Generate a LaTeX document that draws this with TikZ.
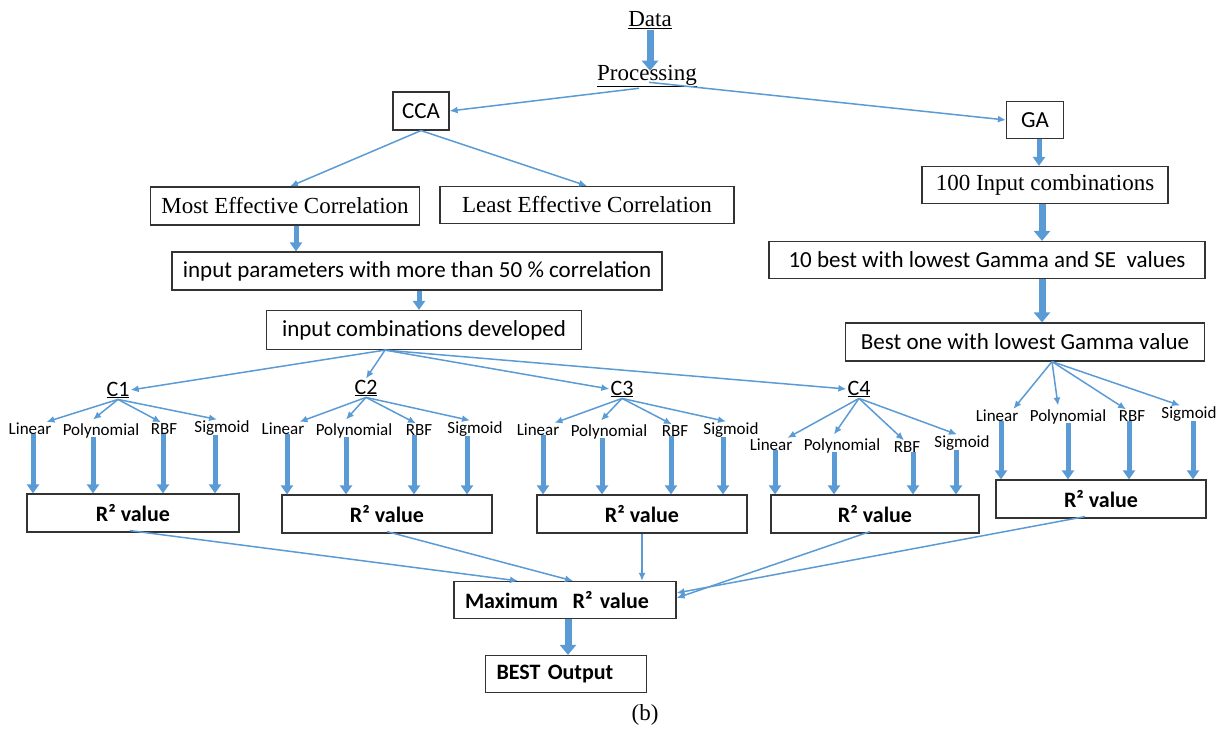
\documentclass[tikz,border=0pt]{standalone}
\usepackage{fontspec}
\setmainfont{Liberation Serif}
\setsansfont{Carlito}
\usetikzlibrary{arrows.meta,calc}
\definecolor{blu}{RGB}{91,155,213}
\tikzset{
  box/.style={draw=black!80, line width=1.2pt, inner sep=0pt, align=center},
  serifbox/.style={box, font=\rmfamily\fontsize{23}{26}\selectfont},
  sansbox/.style={box, font=\sffamily\fontsize{23}{26}\selectfont},
  rbox/.style={box, font=\sffamily\bfseries\fontsize{22}{25}\selectfont, minimum height=38pt},
  leftbox/.style={draw=black!80, line width=1.2pt, inner xsep=11pt, inner ysep=0pt, align=left, font=\sffamily\bfseries\fontsize{22}{25}\selectfont, minimum height=37pt},
  plain/.style={inner sep=1pt, font=\rmfamily\fontsize{23}{26}\selectfont},
  clab/.style={inner sep=1pt, font=\sffamily\fontsize{22}{25}\selectfont},
  klab/.style={inner sep=1pt, font=\sffamily\fontsize{17}{20}\selectfont},
  thin/.style={draw=blu, line width=1.5pt, -{Latex[length=8pt,width=7pt]}},
  fat/.style={draw=blu, line width=7pt, -{Triangle[width=16pt,length=10pt]}},
  fatsm/.style={draw=blu, line width=5pt, -{Triangle[width=12pt,length=9pt]}}
}
\begin{document}
\begin{tikzpicture}[x=1pt,y=-1pt]
\useasboundingbox (0,0) rectangle (1231,730);
% top
\node[plain] (data) at (650,20) {\underline{Data}};
\node[plain] (proc) at (647,76) {\underline{Processing}};
\node[sansbox, minimum width=56pt, minimum height=38pt] (cca) at (421,111) {CCA};
\node[sansbox, minimum width=57pt, minimum height=37pt] (ga) at (1035,120) {GA};
% left branch
\node[serifbox, minimum width=269pt, minimum height=38pt] (mec) at (285,206) {Most Effective Correlation};
\node[serifbox, minimum width=294pt, minimum height=37pt] (lec) at (587,205) {Least Effective Correlation};
\node[sansbox, minimum width=490pt, minimum height=38pt] (ip) at (417,271) {input parameters with more than 50 \% correlation};
\node[sansbox, minimum width=315pt, minimum height=39pt] (icd) at (424,330) {input combinations developed};
% right branch
\node[serifbox, minimum width=246pt, minimum height=37pt] (hic) at (1045,185) {100 Input combinations};
\node[sansbox, minimum width=436pt, minimum height=37pt] (tb) at (987,260) {10 best with lowest Gamma and SE\ \ values};
\node[sansbox, minimum width=359pt, minimum height=38pt] (bo) at (1025,342) {Best one with lowest Gamma value};
% C labels
\node[clab] (c1) at (118,390) {\underline{C1}};
\node[clab] (c2) at (366,388) {\underline{C2}};
\node[clab] (c3) at (622,389) {\underline{C3}};
\node[clab] (c4) at (859,389) {\underline{C4}};
% kernel labels
\node[klab] (a1) at (30,429) {Linear};
\node[klab] (b1) at (101,431) {Polynomial};
\node[klab] (r1) at (164,429) {RBF};
\node[klab] (s1) at (222,428) {Sigmoid};
\node[klab] (a2) at (283,429) {Linear};
\node[klab] (b2) at (354,431) {Polynomial};
\node[klab] (r2) at (419,430) {RBF};
\node[klab] (s2) at (475,429) {Sigmoid};
\node[klab] (a3) at (538,430) {Linear};
\node[klab] (b3) at (609,432) {Polynomial};
\node[klab] (r3) at (675,431) {RBF};
\node[klab] (s3) at (731,430) {Sigmoid};
\node[klab] (a4) at (771,445) {Linear};
\node[klab] (b4) at (842,446) {Polynomial};
\node[klab] (r4) at (907,447) {RBF};
\node[klab] (s4) at (962,443) {Sigmoid};
\node[klab] (a5) at (997,416) {Linear};
\node[klab] (b5) at (1068,417) {Polynomial};
\node[klab] (r5) at (1132,416) {RBF};
\node[klab] (s5) at (1189,414) {Sigmoid};
% R2 boxes
\node[rbox, minimum width=212pt] (R1) at (133,513) {R² value};
\node[rbox, minimum width=210pt] (R2) at (387,514) {R² value};
\node[rbox, minimum width=210pt] (R3) at (642,514) {R² value};
\node[rbox, minimum width=208pt] (R4) at (875,514) {R² value};
\node[rbox, minimum width=210pt] (R5) at (1101,499) {R² value};
% bottom
\node[leftbox, text width=200pt] (mx) at (565,600) {Maximum\ \ R² value};
\node[leftbox, text width=139pt] (bst) at (566,674) {BEST Output};
\node[plain] (cap) at (645,715) {(b)};
% connectors top
\draw[fat, shorten >=-7pt] (data.south) -- (data.south |- proc.north);
\draw[thin] ([xshift=-8pt]proc.south) -- (cca.east);
\draw[thin] ([xshift=2pt,yshift=6pt]proc.south) -- (ga.west);
\draw[thin] (cca.south) -- ([xshift=5pt]mec.north);
\draw[thin] (cca.south) -- (lec.north);
\draw[fatsm] ([xshift=11pt]mec.south) -- ([xshift=11pt]mec.south |- ip.north);
\draw[fatsm] ([xshift=2pt]ip.south) -- ([xshift=2pt]ip.south |- icd.north);
\draw[fatsm] ([xshift=4pt]ga.south) -- ([xshift=4pt]ga.south |- hic.north);
\draw[fat] ([xshift=-3pt]hic.south) -- ([xshift=-3pt]hic.south |- tb.north);
\draw[fat] ([xshift=55pt]tb.south) -- ([xshift=55pt]tb.south |- bo.north);
% ICD to C
\draw[thin] ([xshift=-39pt]icd.south) -- (c1.east);
\draw[thin] ([xshift=-39pt]icd.south) -- (c2.north);
\draw[thin] ([xshift=-39pt]icd.south) -- (c3.west);
\draw[thin] ([xshift=-39pt]icd.south) -- (c4.west);
% C to kernels
\foreach \c/\a/\b/\r/\s in {c1/a1/b1/r1/s1, c2/a2/b2/r2/s2, c3/a3/b3/r3/s3, c4/a4/b4/r4/s4}{
  \draw[thin] (\c.south) -- ([xshift=-6pt]\a.north east);
  \draw[thin] (\c.south) -- ([xshift=-8pt,yshift=3pt]\b.north);
  \draw[thin] (\c.south) -- ([xshift=-3pt]\r.north);
  \draw[thin] (\c.south) -- ([xshift=-5pt]\s.north);
}
\draw[thin] ([xshift=27pt]bo.south) -- ([xshift=-6pt]a5.north east);
\draw[thin] ([xshift=27pt]bo.south) -- ([xshift=-10pt,yshift=3pt]b5.north);
\draw[thin] ([xshift=27pt]bo.south) -- ([xshift=-6pt]r5.north);
\draw[thin] ([xshift=27pt]bo.south) -- ([xshift=-9pt]s5.north);
% kernels to R2 boxes
\foreach \n/\R/\d in {a1/R1/3, b1/R1/-8, r1/R1/-1, s1/R1/-7,
                      a2/R2/4, b2/R2/-8, r2/R2/-5, s2/R2/-8,
                      a3/R3/5, b3/R3/-7, r3/R3/-4, s3/R3/-8,
                      a4/R4/4, b4/R4/-8, r4/R4/6, s4/R4/-6,
                      a5/R5/4, b5/R5/0, r5/R5/-3, s5/R5/4}{
  \draw[fatsm] ([xshift=\d pt, yshift=2pt]\n.south) -- ([xshift=\d pt]\n.south |- \R.north);
}
% R2 boxes to maximum
\draw[thin] ([xshift=-3pt,yshift=2pt]R1.south) -- ([xshift=-47pt]mx.north);
\draw[thin] ([yshift=2pt]R2.south) -- ([xshift=8pt]mx.north);
\draw[thin] (R3.south) -- (R3.south |- mx.north);
\draw[thin] ([xshift=-5pt,yshift=2pt]R4.south) -- ([yshift=2pt]mx.east);
\draw[thin] ([xshift=-16pt,yshift=2pt]R5.south) -- ([yshift=7pt]mx.east);
\draw[fat] ([xshift=3pt]mx.south) -- ([xshift=3pt]mx.south |- bst.north);
\end{tikzpicture}
\end{document}
